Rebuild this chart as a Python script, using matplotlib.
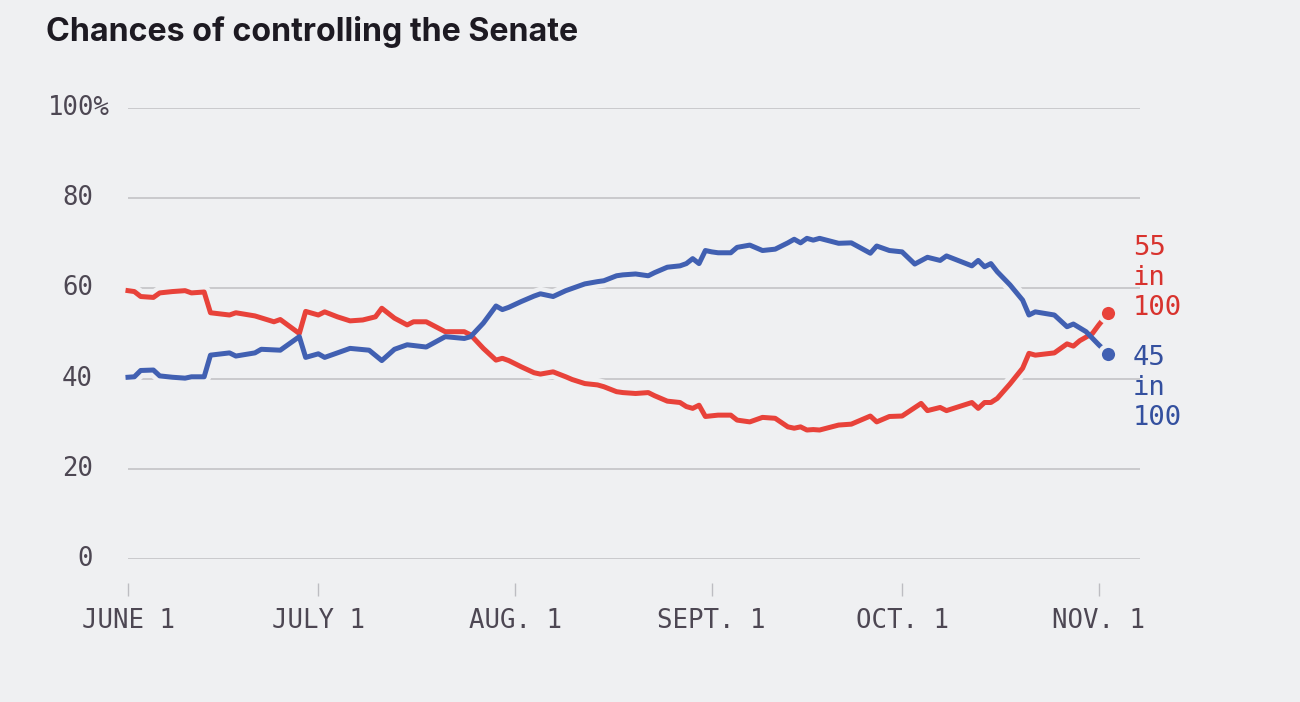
import matplotlib
matplotlib.use("Agg")
import matplotlib.pyplot as plt
import numpy as np

# days since June 1 and chance (in %) of controlling the Senate
dem_days = [0, 1, 2, 4, 5, 7, 9, 10, 12, 13, 16, 17, 20, 21, 24, 27, 28, 30, 31, 33,
            35, 38, 40, 42, 44, 47, 50, 53, 54, 56, 58, 59, 60, 62, 64, 65, 67, 69, 70, 72,
            74, 75, 77, 78, 80, 82, 83, 85, 87, 88, 89, 90, 91, 92, 93, 95, 96, 98, 100, 102,
            104, 105, 106, 107, 108, 109, 112, 114, 117, 118, 120, 122, 124, 126, 128, 129, 133, 134, 135, 136,
            137, 139, 141, 142, 143, 146, 148, 149, 151, 153, 154.5]
dem_chance = [40.3, 40.4, 41.8, 41.9, 40.6, 40.3, 40.1, 40.4, 40.4, 45.2, 45.7, 45.0, 45.7, 46.5, 46.3, 49.3, 44.7, 45.5, 44.7, 45.7,
              46.7, 46.3, 44.0, 46.5, 47.5, 47.0, 49.3, 48.9, 49.3, 52.3, 56.1, 55.3, 55.8, 57.1, 58.3, 58.8, 58.2, 59.5, 60.0, 61.0,
              61.5, 61.7, 62.8, 63.0, 63.2, 62.8, 63.5, 64.7, 65.0, 65.5, 66.6, 65.5, 68.4, 68.1, 67.9, 67.9, 69.1, 69.6, 68.4, 68.7,
              70.1, 70.9, 70.1, 71.1, 70.7, 71.1, 70.0, 70.1, 67.8, 69.4, 68.4, 68.1, 65.4, 66.9, 66.2, 67.2, 65.0, 66.2, 64.8, 65.5,
              63.7, 60.8, 57.4, 54.1, 54.8, 54.1, 51.5, 52.1, 50.4, 47.5, 45.5]

rep_days = [0, 1, 2, 4, 5, 7, 9, 10, 12, 13, 16, 17, 20, 23, 24, 27, 28, 30, 31, 33,
            35, 37, 39, 40, 42, 44, 45, 47, 50, 53, 54, 56, 58, 59, 60, 62, 64, 65, 67, 69,
            70, 72, 74, 75, 77, 78, 80, 82, 83, 85, 87, 88, 89, 90, 91, 93, 95, 96, 98, 100,
            102, 104, 105, 106, 107, 108, 109, 112, 114, 117, 118, 120, 122, 125, 126, 128, 129, 133, 134, 135,
            136, 137, 139, 141, 142, 143, 146, 148, 149, 150, 152, 153, 154.5]
rep_chance = [59.5, 59.3, 58.2, 58.0, 59.0, 59.3, 59.5, 59.0, 59.2, 54.6, 54.1, 54.6, 53.9, 52.6, 53.1, 50.0, 54.9, 54.1, 54.8, 53.7,
              52.8, 53.0, 53.7, 55.6, 53.4, 51.9, 52.6, 52.6, 50.4, 50.4, 49.7, 46.7, 44.1, 44.5, 44.0, 42.6, 41.3, 41.0, 41.5, 40.4,
              39.8, 38.9, 38.6, 38.2, 37.1, 36.9, 36.7, 36.9, 36.2, 35.0, 34.7, 33.8, 33.4, 34.1, 31.6, 31.9, 31.9, 30.8, 30.4, 31.4,
              31.2, 29.3, 29.0, 29.3, 28.6, 28.7, 28.6, 29.7, 29.9, 31.7, 30.4, 31.6, 31.7, 34.5, 32.9, 33.6, 32.9, 34.7, 33.4, 34.7,
              34.7, 35.6, 38.8, 42.3, 45.6, 45.2, 45.7, 47.7, 47.2, 48.4, 50.0, 51.9, 54.5]

start = np.datetime64("2016-06-01")
tick_dates = ["2016-06-01", "2016-07-01", "2016-08-01", "2016-09-01", "2016-10-01", "2016-11-01"]
tick_labels = ["JUNE 1", "JULY 1", "AUG. 1", "SEPT. 1", "OCT. 1", "NOV. 1"]
y_ticks = [0, 20, 40, 60, 80, 100]
y_labels = ["0", "20", "40", "60", "80", "100%"]
dem_label = "45\nin\n100"
rep_label = "55\nin\n100"

bg = "#eff0f2"
red = "#e8423a"
blue = "#4160b2"
text_color = "#4d4753"
mono = "DejaVu Sans Mono"

fig = plt.figure(figsize=(13, 7.02), dpi=100, facecolor=bg)
ax = fig.add_axes([128 / 1300, 1 - 559 / 702, 1012 / 1300, 451 / 702], facecolor=bg)

tick_days = (np.array(tick_dates, dtype="datetime64[D]") - start).astype(int)

# halos first so the gridlines break under both lines, then the lines
for days, chance in [(rep_days, rep_chance), (dem_days, dem_chance)]:
    ax.plot(days, chance, color=bg, lw=10, solid_capstyle="round", zorder=2, clip_on=False)
for days, chance, color in [(rep_days, rep_chance, red), (dem_days, dem_chance, blue)]:
    ax.plot(days, chance, color=color, lw=3.6, solid_joinstyle="round", zorder=3, clip_on=False)
    ax.plot(days[-1], chance[-1], "o", color=color, ms=12.5, mec=bg, mew=3, zorder=4, clip_on=False)

ax.set_xlim(0, 159.5)
ax.set_ylim(0, 100)
ax.set_yticks(y_ticks)
ax.yaxis.grid(True, color="#c9c9cc", lw=1.4)
ax.set_axisbelow(True)
ax.tick_params(axis="y", length=0, labelleft=False)
for value, label in zip(y_ticks, y_labels):
    xpos = -18 / 1012 if label.endswith("%") else -35 / 1012
    ax.text(xpos, value, label, transform=ax.get_yaxis_transform(), ha="right", va="center",
            fontsize=18.5, family=mono, color=text_color)

ax.set_xticks(tick_days, tick_labels)
ax.spines["bottom"].set_position(("outward", 17.5))
for side in ["top", "right", "left", "bottom"]:
    ax.spines[side].set_color("none")
ax.tick_params(axis="x", length=9.5, width=1, color="#bdbdc2", pad=8, labelsize=18.5, labelcolor=text_color)
for lab in ax.get_xticklabels():
    lab.set_family(mono)

ax.text(1133 / 1300, 1 - 278 / 702, rep_label, transform=fig.transFigure, ha="left", va="center",
        fontsize=19.5, family=mono, color="#d8332e", linespacing=1.22)
ax.text(1133 / 1300, 1 - 388 / 702, dem_label, transform=fig.transFigure, ha="left", va="center",
        fontsize=19.5, family=mono, color="#34509f", linespacing=1.22)

fig.text(46 / 1300, 1 - 41 / 702, "Chances of controlling the Senate", ha="left", va="baseline",
         fontsize=23.2, fontweight="bold", family="Inter", color="#1d1a22")

fig.savefig("out.png", dpi=100, facecolor=bg)
